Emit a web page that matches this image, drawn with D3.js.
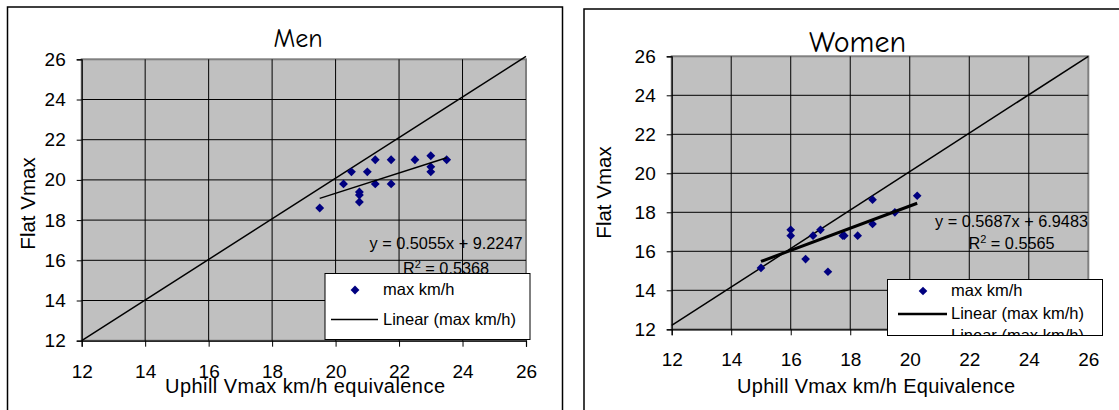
<!DOCTYPE html>
<html>
<head>
<meta charset="utf-8">
<script src="https://cdn.jsdelivr.net/npm/d3@7"></script>
<style>
  html, body { margin: 0; padding: 0; background: #fff; }
  svg { display: block; }
  text { font-family: Arial, "Liberation Sans", sans-serif; fill: #000; }
  .title { font-family: "Comic Sans MS", "Comic Neue", "DejaVu Sans", sans-serif; }
</style>
</head>
<body>
<svg id="chart" width="1119" height="410"></svg>
<script>
// ── Data ──────────────────────────────────────────────────────────────────────

const AXIS_TICKS = [12, 14, 16, 18, 20, 22, 24, 26];

// Men: uphill Vmax equivalence vs flat Vmax (km/h)
const menUphill = [19.5, 20.25, 20.5, 20.75, 20.75, 20.75, 21, 21.25, 21.25, 21.75, 21.75, 22.5, 23, 23, 23, 23.5];
const menFlat   = [18.6, 19.8, 20.4, 19.4, 19.25, 18.9, 20.4, 21, 19.8, 21, 19.8, 21, 21.2, 20.65, 20.4, 21];
const menFit    = { slope: 0.5055, intercept: 9.2247, r2: 0.5368 };
const menIdentX = [12, 26];
const menIdentY = [12, 26.15];

// Women
const womenUphill = [15, 16, 16, 16.5, 16.75, 17, 17.25, 17.75, 17.8, 18.25, 18.75, 18.75, 19.5, 20.25];
const womenFlat   = [15.15, 17.1, 16.8, 15.6, 16.8, 17.1, 14.95, 16.8, 16.8, 16.8, 18.65, 17.4, 18.0, 18.85];
const womenFit    = { slope: 0.5687, intercept: 6.9483, r2: 0.5565 };
const womenIdentX = [12, 26];
const womenIdentY = [12.2, 26];

const SERIES_LABEL = 'max km/h';
const TREND_LABEL  = 'Linear (max km/h)';

// ── Drawing ───────────────────────────────────────────────────────────────────

const svg = d3.select('#chart');

function drawPanel(cfg) {
  const g = svg.append('g');

  // outer chart frame
  g.append('rect')
    .attr('x', cfg.frame[0]).attr('y', cfg.frame[1])
    .attr('width', cfg.frame[2]).attr('height', cfg.frame[3])
    .attr('fill', '#fff').attr('stroke', '#000').attr('stroke-width', 1.5);

  const x = d3.scaleLinear().domain([12, 26]).range([cfg.left, cfg.right]);
  const y = d3.scaleLinear().domain([12, 26]).range([cfg.bottom, cfg.top]);

  // plot area
  g.append('rect')
    .attr('x', cfg.left).attr('y', cfg.top)
    .attr('width', cfg.right - cfg.left).attr('height', cfg.bottom - cfg.top)
    .attr('fill', '#c0c0c0').attr('stroke', '#808080').attr('stroke-width', 2);

  // gridlines
  g.append('g').selectAll('line.vg').data(AXIS_TICKS.slice(1, -1)).enter().append('line')
    .attr('x1', d => x(d)).attr('x2', d => x(d))
    .attr('y1', cfg.top).attr('y2', cfg.bottom)
    .attr('stroke', '#000').attr('stroke-width', 1);
  g.append('g').selectAll('line.hg').data(AXIS_TICKS.slice(1, -1)).enter().append('line')
    .attr('y1', d => y(d)).attr('y2', d => y(d))
    .attr('x1', cfg.left).attr('x2', cfg.right)
    .attr('stroke', '#000').attr('stroke-width', 1);

  // axes
  const xAxis = g.append('g').attr('transform', `translate(0,${cfg.bottom})`)
    .call(d3.axisBottom(x).tickValues(AXIS_TICKS).tickSize(6).tickPadding(17.5));
  const yAxis = g.append('g').attr('transform', `translate(${cfg.left},0)`)
    .call(d3.axisLeft(y).tickValues(AXIS_TICKS).tickSize(5).tickPadding(11));
  [xAxis, yAxis].forEach(a => {
    a.select('.domain').attr('stroke', '#000').attr('stroke-width', 1.2);
    a.selectAll('.tick line').attr('stroke', '#000');
    a.selectAll('.tick text').attr('font-size', 19)
      .attr('font-family', 'Arial, "Liberation Sans", sans-serif').attr('fill', '#000');
  });
  yAxis.selectAll('.tick text').attr('dy', '0.32em');
  xAxis.selectAll('.tick text').attr('dy', '0.71em');

  // identity line
  const line = d3.line().x(d => x(d[0])).y(d => y(d[1]));
  g.append('path')
    .datum(d3.zip(cfg.identX, cfg.identY))
    .attr('d', line).attr('fill', 'none')
    .attr('stroke', '#000').attr('stroke-width', 1.5);

  // points
  const pts = d3.zip(cfg.xs, cfg.ys);
  const diamond = d3.symbol().type(d3.symbolDiamond2).size(cfg.markSize);
  g.append('g').selectAll('path').data(pts).enter().append('path')
    .attr('d', diamond)
    .attr('transform', d => `translate(${x(d[0])},${y(d[1])})`)
    .attr('fill', '#000080');

  // linear trend line
  const tx = d3.extent(cfg.xs);
  g.append('path')
    .datum(tx.map(v => [v, cfg.fit.slope * v + cfg.fit.intercept]))
    .attr('d', line).attr('fill', 'none')
    .attr('stroke', '#000').attr('stroke-width', cfg.trendWidth);

  // equation label
  const eq = g.append('text').attr('text-anchor', 'middle').attr('font-size', 16.3);
  eq.append('tspan').attr('x', cfg.eq[0]).attr('y', cfg.eq[1])
    .text(`y = ${cfg.fit.slope}x + ${cfg.fit.intercept}`);
  const r = eq.append('tspan').attr('x', cfg.eq[0]).attr('y', cfg.eq[2]);
  r.append('tspan').text('R');
  r.append('tspan').attr('font-size', 11).attr('dy', -6).text('2');
  r.append('tspan').attr('dy', 6).text(` = ${cfg.fit.r2}`);

  // legend
  const L = cfg.legend;
  const clipId = 'clip-' + cfg.id;
  svg.append('clipPath').attr('id', clipId).append('rect')
    .attr('x', L.x).attr('y', L.y).attr('width', L.w).attr('height', L.h);
  const lg = g.append('g');
  lg.append('rect').attr('x', L.x).attr('y', L.y).attr('width', L.w).attr('height', L.h)
    .attr('fill', '#fff').attr('stroke', '#000').attr('stroke-width', 1);
  const inner = lg.append('g').attr('clip-path', `url(#${clipId})`);
  inner.append('path').attr('d', diamond)
    .attr('transform', `translate(${L.markX},${L.rows[0] - 5})`).attr('fill', '#000080');
  inner.append('line').attr('x1', L.lineX[0]).attr('x2', L.lineX[1])
    .attr('y1', L.lineY).attr('y2', L.lineY)
    .attr('stroke', '#000').attr('stroke-width', cfg.trendWidth === 1.5 ? 1.5 : 2.5);
  const labels = [SERIES_LABEL, TREND_LABEL, TREND_LABEL].slice(0, L.rows.length);
  inner.selectAll('text.lg').data(labels).enter().append('text')
    .attr('x', L.textX).attr('y', (d, i) => L.rows[i])
    .attr('font-size', 16.5).text(d => d);

  // titles
  g.append('text').attr('class', 'title')
    .attr('x', cfg.title[0]).attr('y', cfg.title[1])
    .attr('text-anchor', 'middle').attr('font-size', cfg.titleSize)
    .text(cfg.titleText);
  g.append('text')
    .attr('transform', `translate(${cfg.yTitle[0]},${cfg.yTitle[1]}) rotate(-90)`)
    .attr('text-anchor', 'middle').attr('font-size', 20.5)
    .text('Flat Vmax');
  g.append('text')
    .attr('x', cfg.xTitle[0]).attr('y', cfg.xTitle[1])
    .attr('text-anchor', 'middle').attr('font-size', 20)
    .attr('textLength', cfg.xTitle[2]).attr('lengthAdjust', 'spacing')
    .text(cfg.xTitleText);
}

drawPanel({
  id: 'men',
  frame: [7.5, 7, 555, 420],
  left: 81.7, right: 526, top: 59.3, bottom: 340.7,
  xs: menUphill, ys: menFlat, fit: menFit,
  identX: menIdentX, identY: menIdentY,
  markSize: 50, trendWidth: 1.5,
  eq: [446, 249, 274],
  legend: { x: 325, y: 273.5, w: 205, h: 66, markX: 355, textX: 383,
            rows: [295, 324.5], lineX: [331, 378], lineY: 319.5 },
  titleText: 'Men', title: [298, 46.5], titleSize: 26,
  yTitle: [35, 203.5],
  xTitleText: 'Uphill Vmax km/h equivalence', xTitle: [305, 392.5, 280],
});

drawPanel({
  id: 'women',
  frame: [584, 9, 560, 420],
  left: 671.7, right: 1088.3, top: 56.3, bottom: 329.3,
  xs: womenUphill, ys: womenFlat, fit: womenFit,
  identX: womenIdentX, identY: womenIdentY,
  markSize: 48, trendWidth: 3,
  eq: [1011.5, 226.5, 249],
  legend: { x: 887.5, y: 279.5, w: 215, h: 56, markX: 923, textX: 951,
            rows: [296, 318.5, 340.5], lineX: [898, 947], lineY: 314 },
  titleText: 'Women', title: [857.5, 51.5], titleSize: 30,
  yTitle: [611, 192.5],
  xTitleText: 'Uphill Vmax km/h Equivalence', xTitle: [876, 393, 278],
});
</script>
</body>
</html>
